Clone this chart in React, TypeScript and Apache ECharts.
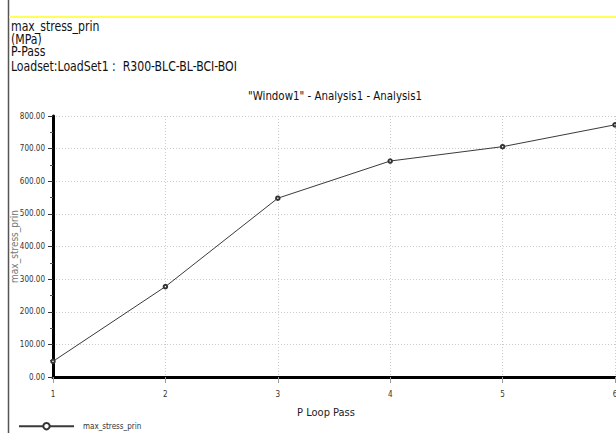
import React, { useEffect, useRef } from "react";
import * as echarts from "echarts";

const passes = [1, 2, 3, 4, 5, 6];
const stress = [48, 277, 548, 662, 706, 773];
const headerLines = [
  "max_stress_prin",
  "(MPa)",
  "P-Pass",
  "Loadset:LoadSet1 :  R300-BLC-BL-BCI-BOI",
];
const chartTitle = '"Window1" - Analysis1 - Analysis1';
const seriesName = "max_stress_prin";
const xName = "P Loop Pass";
const yName = "max_stress_prin";

const FONT = "'DejaVu Sans Condensed', 'Liberation Sans Narrow', 'Liberation Sans', sans-serif";

export default function App() {
  const ref = useRef<HTMLDivElement>(null);
  useEffect(() => {
    if (!ref.current) return;
    const chart = echarts.init(ref.current, undefined, { renderer: "svg" });
    const headerTop = [19, 32, 44, 59];
    chart.setOption({
      animation: false,
      backgroundColor: "#ffffff",
      grid: { left: 53, right: 1, top: 116, bottom: 56, containLabel: false, outerBoundsMode: "none" },
      legend: {
        show: true,
        left: 13,
        top: 417,
        itemWidth: 55,
        itemHeight: 8,
        data: [seriesName],
        textStyle: { fontFamily: FONT, fontSize: 8, color: "#333", padding: [0, 0, 0, 4] },
      },
      xAxis: {
        type: "value",
        min: 1,
        max: 6,
        interval: 1,
        name: xName,
        nameLocation: "middle",
        nameGap: 30,
        nameTextStyle: { fontFamily: FONT, fontSize: 11, color: "#222", padding: [0, 16, 0, 0] },
        axisLine: { lineStyle: { color: "#000", width: 3 } },
        axisTick: { show: true, length: 6, lineStyle: { color: "#999", width: 1 } },
        axisLabel: { fontFamily: FONT, fontSize: 8, color: "#333", margin: 13 },
        splitLine: { show: true, lineStyle: { color: "#ccc", type: [1, 2], width: 1 } },
      },
      yAxis: {
        type: "value",
        min: 0,
        max: 800,
        interval: 100,
        name: yName,
        nameLocation: "middle",
        nameGap: 34,
        nameMoveOverlap: false,
        nameTextStyle: { fontFamily: FONT, fontSize: 10, color: "#777" },
        axisLine: { show: true, lineStyle: { color: "#000", width: 3 } },
        axisTick: { show: true, length: 5, lineStyle: { color: "#333", width: 1 } },
        minorTick: { show: true, splitNumber: 2, length: 3, lineStyle: { color: "#555" } },
        axisLabel: {
          fontFamily: FONT,
          fontSize: 8,
          color: "#333",
          margin: 8,
          formatter: (v: number) => v.toFixed(2),
        },
        splitLine: { show: true, lineStyle: { color: "#ccc", type: [1, 2], width: 1 } },
      },
      series: [
        {
          name: seriesName,
          type: "line",
          data: passes.map((p, i) => [p, stress[i]]),
          symbol: "emptyCircle",
          symbolSize: 3.5,
          lineStyle: { color: "#3a3a3a", width: 1 },
          itemStyle: { color: "#333", borderWidth: 1 },
        },
      ],
      graphic: [
        { type: "line", shape: { x1: 8.5, y1: 0, x2: 8.5, y2: 433 }, style: { stroke: "#555", lineWidth: 1.5 } },
        { type: "line", shape: { x1: 9, y1: 17, x2: 616, y2: 17 }, style: { stroke: "#ffff55", lineWidth: 2 } },
        ...headerLines.map((t, i) => ({
          type: "text",
          x: 11,
          y: headerTop[i],
          scaleX: 0.9,
          style: { text: t, fontFamily: FONT, fontSize: 13.5, fill: "#111", textVerticalAlign: "top" },
        })),
        {
          type: "text",
          x: 335,
          y: 90,
          scaleX: 0.95,
          style: {
            text: chartTitle,
            fontFamily: FONT,
            fontSize: 12,
            fill: "#111",
            textAlign: "center",
            textVerticalAlign: "top",
          },
        },
      ],
    });
    return () => chart.dispose();
  }, []);
  return (
    <div
      ref={ref}
      style={{ position: "fixed", left: 0, top: 0, width: 616, height: 433 }}
    />
  );
}
